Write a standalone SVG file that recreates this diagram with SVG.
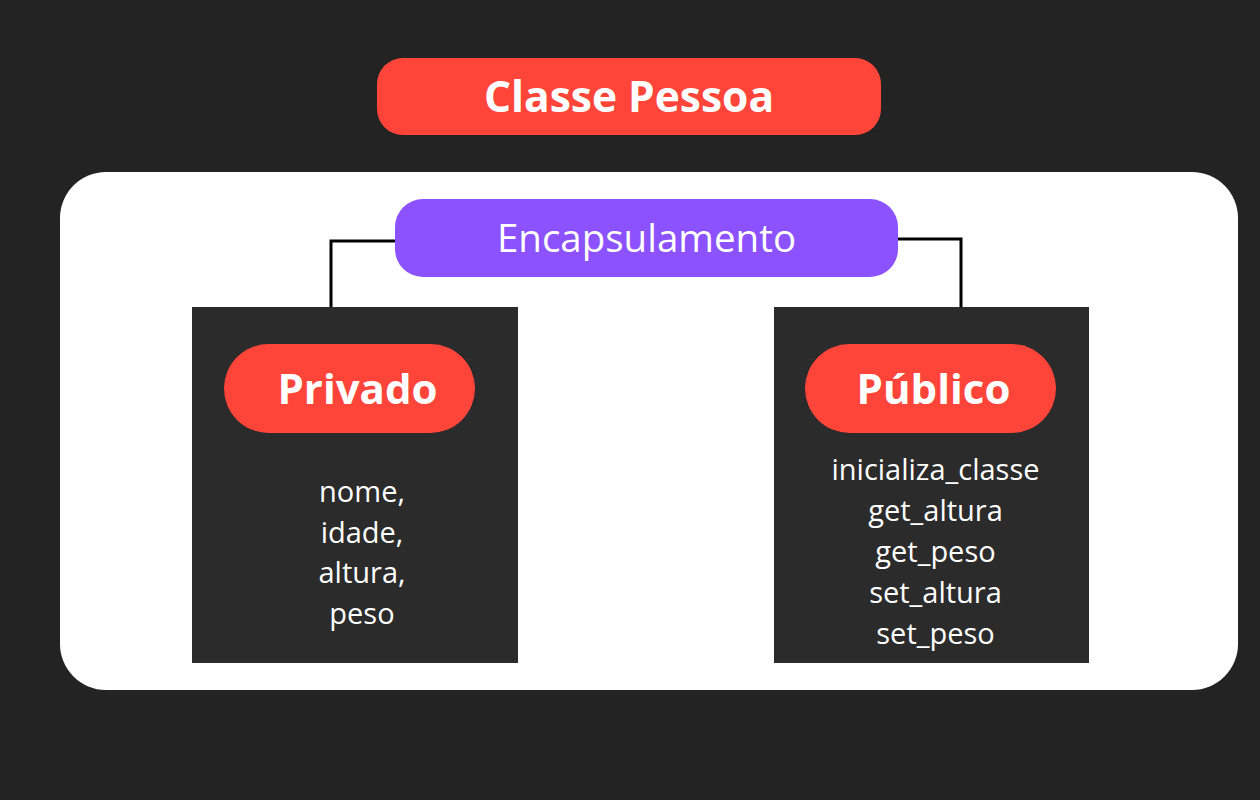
<svg xmlns="http://www.w3.org/2000/svg" width="1260" height="800" viewBox="0 0 1260 800">
<style>
.t{font-family:"Open Sans","Noto Sans","Liberation Sans",sans-serif;fill:#ffffff;text-anchor:middle}
.b{font-weight:700}
.red{fill:#ff4539}
.box{fill:#2b2b2b}
.item{font-size:29px}
.conn{fill:none;stroke:#000000;stroke-width:3}
</style>
<rect width="1260" height="800" fill="#232323"/>
<g id="title">
<rect class="red" x="377" y="58" width="504" height="77" rx="26"/>
<text class="t b" x="629" y="112" font-size="42.5">Classe Pessoa</text>
</g>
<g id="container">
<rect x="60" y="172" width="1178" height="518" rx="46" fill="#ffffff"/>
</g>
<g id="connectors">
<polyline class="conn" points="396,241 331,241 331,308"/>
<polyline class="conn" points="897,239 961,239 961,308"/>
</g>
<g id="encapsulamento">
<rect x="395" y="199" width="503" height="78" rx="28" fill="#8c52ff"/>
<text class="t" x="646.5" y="252" font-size="38.5">Encapsulamento</text>
</g>
<g id="privado">
<rect class="box" x="192" y="307" width="326" height="356"/>
<rect class="red" x="224" y="344" width="251" height="89" rx="44.5"/>
<text class="t b" x="357.5" y="404" font-size="42">Privado</text>
<text class="t item" x="362" y="502">nome,</text>
<text class="t item" x="362" y="543">idade,</text>
<text class="t item" x="362" y="583">altura,</text>
<text class="t item" x="362" y="624">peso</text>
</g>
<g id="publico">
<rect class="box" x="774" y="307" width="315" height="356"/>
<rect class="red" x="805" y="344" width="251" height="89" rx="44.5"/>
<text class="t b" x="933.5" y="404" font-size="42">Público</text>
<text class="t item" x="935.5" y="480">inicializa_classe</text>
<text class="t item" x="935.5" y="521">get_altura</text>
<text class="t item" x="935.5" y="562">get_peso</text>
<text class="t item" x="935.5" y="603">set_altura</text>
<text class="t item" x="935.5" y="644">set_peso</text>
</g>
</svg>
